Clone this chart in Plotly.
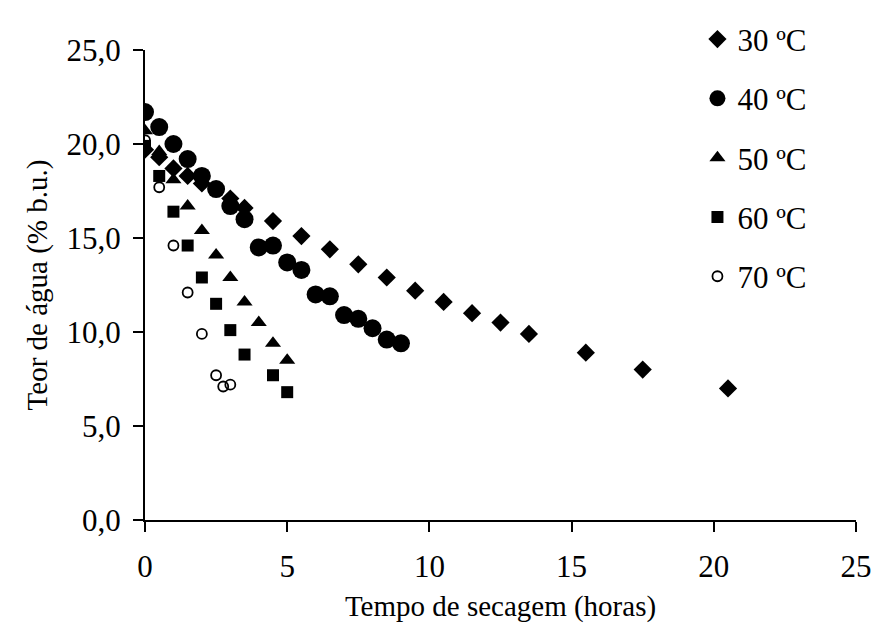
import plotly.graph_objects as go

# Data (time in hours, water content % w.b.)
t30 = [0, 0.5, 1, 1.5, 2, 3, 3.5, 4.5, 5.5, 6.5, 7.5, 8.5, 9.5, 10.5, 11.5, 12.5, 13.5, 15.5, 17.5, 20.5]
u30 = [19.7, 19.3, 18.7, 18.3, 17.9, 17.1, 16.6, 15.9, 15.1, 14.4, 13.6, 12.9, 12.2, 11.6, 11.0, 10.5, 9.9, 8.9, 8.0, 7.0]

t40 = [0, 0.5, 1, 1.5, 2, 2.5, 3, 3.5, 4, 4.5, 5, 5.5, 6, 6.5, 7, 7.5, 8, 8.5, 9]
u40 = [21.7, 20.9, 20.0, 19.2, 18.3, 17.6, 16.7, 16.0, 14.5, 14.6, 13.7, 13.3, 12.0, 11.9, 10.9, 10.7, 10.2, 9.6, 9.4]

t50 = [0, 0.5, 1, 1.5, 2, 2.5, 3, 3.5, 4, 4.5, 5]
u50 = [20.7, 19.6, 18.1, 16.7, 15.4, 14.1, 12.9, 11.6, 10.5, 9.4, 8.5]

t60 = [0, 0.5, 1, 1.5, 2, 2.5, 3, 3.5, 4.5, 5]
u60 = [19.9, 18.3, 16.4, 14.6, 12.9, 11.5, 10.1, 8.8, 7.7, 6.8]

t70 = [0, 0.5, 1, 1.5, 2, 2.5, 2.75, 3]
u70 = [20.2, 17.7, 14.6, 12.1, 9.9, 7.7, 7.1, 7.2]

names = ["30 ºC", "40 ºC", "50 ºC", "60 ºC", "70 ºC"]
xs = [t30, t40, t50, t60, t70]
ys = [u30, u40, u50, u60, u70]
symbols = ["diamond", "circle", "triangle-up", "square", "circle-open"]
sizes = [14, 18, 14, 12, 10]

font_family = "Liberation Serif, Times New Roman, serif"

fig = go.Figure()
for i in range(5):
    fig.add_trace(go.Scatter(
        x=xs[i], y=ys[i], mode="markers", name=names[i],
        legendgroup=names[i],
        marker=dict(symbol=symbols[i], size=sizes[i], color="black",
                    line=dict(color="black", width=1.8 if symbols[i] == "circle-open" else 0)),
    ))

fig.update_layout(
    width=884, height=635,
    margin=dict(l=145, r=18, t=30, b=115),
    paper_bgcolor="white", plot_bgcolor="white",
    font=dict(family=font_family, size=24, color="black"),
    separators=",.",
    showlegend=True,
    legend=dict(x=0.777, y=1.08, xanchor="left", yanchor="top",
                tracegroupgap=16, font=dict(size=31),
                bgcolor="rgba(0,0,0,0)", itemsizing="trace"),
    xaxis=dict(range=[0, 25], tickvals=[0, 5, 10, 15, 20, 25],
               showline=True, linecolor="black", linewidth=2,
               ticks="outside", ticklen=10, tickwidth=2, tickcolor="black",
               tickfont=dict(size=31), ticklabelstandoff=8,
               showgrid=False, zeroline=False,
               title=dict(text="Tempo de secagem (horas)", standoff=12)),
    yaxis=dict(range=[0, 25], tickvals=[0, 5, 10, 15, 20, 25], tickformat=".1f",
               showline=True, linecolor="black", linewidth=2,
               ticks="outside", ticklen=10, tickwidth=2, tickcolor="black",
               tickfont=dict(size=31), ticklabelstandoff=6,
               showgrid=False, zeroline=False,
               title=dict(text="Teor de água (% b.u.)", standoff=10)),
)

fig.write_html("out.html")
